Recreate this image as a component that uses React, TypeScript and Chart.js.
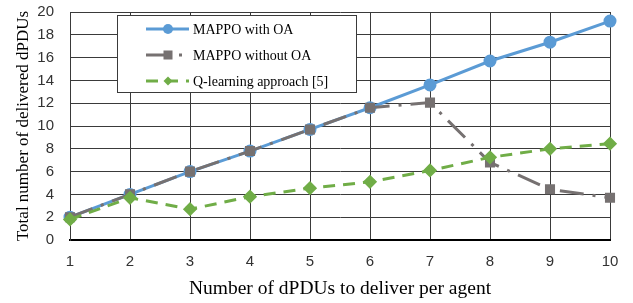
import React, { useEffect, useRef } from "react";
import { Chart, registerables } from "chart.js";

Chart.register(...registerables);

const categories = ["1", "2", "3", "4", "5", "6", "7", "8", "9", "10"];
const withOA = [2, 4, 6, 7.8, 9.7, 11.6, 13.6, 15.7, 17.35, 19.2];
const withoutOA = [2, 4, 6, 7.8, 9.7, 11.6, 12.05, 6.8, 4.45, 3.7];
const qLearning = [1.8, 3.7, 2.7, 3.8, 4.55, 5.1, 6.1, 7.25, 8.0, 8.45];
const seriesNames = ["MAPPO with OA", "MAPPO without OA", "Q-learning approach [5]"];
const yTitle = "Total number of delivered dPDUs";
const xTitle = "Number of dPDUs to deliver per agent";

const BLUE = "#5B9BD5";
const GRAY = "#767171";
const GREEN = "#70AD47";
const GRID = "#3a3a3a";
const SERIF = "'Liberation Serif', 'Times New Roman', serif";
const SANS = "'Liberation Sans', Arial, sans-serif";

const legendPlugin = {
  id: "insideLegend",
  afterDraw(chart: any) {
    const ctx = chart.ctx as CanvasRenderingContext2D;
    const bx = 117.5, by = 15.5, bw = 239, bh = 77;
    ctx.save();
    ctx.fillStyle = "#ffffff";
    ctx.fillRect(bx, by, bw, bh);
    ctx.strokeStyle = GRID;
    ctx.lineWidth = 1;
    ctx.strokeRect(bx, by, bw, bh);
    const rows = [29, 55, 81];
    const x0 = 146, x1 = 189, mx = 168;
    chart.data.datasets.forEach((ds: any, i: number) => {
      const y = rows[i];
      ctx.save();
      ctx.strokeStyle = ds.borderColor;
      ctx.lineWidth = 3;
      ctx.setLineDash(ds.borderDash || []);
      ctx.beginPath();
      ctx.moveTo(x0, y);
      ctx.lineTo(x1, y);
      ctx.stroke();
      ctx.restore();
      ctx.fillStyle = ds.pointBackgroundColor;
      ctx.beginPath();
      if (ds.pointStyle === "circle") {
        ctx.arc(mx, y, 5, 0, Math.PI * 2);
        ctx.fill();
      } else if (ds.pointStyle === "rect") {
        ctx.fillRect(mx - 4.5, y - 4.5, 9, 9);
      } else {
        ctx.moveTo(mx, y - 4.5);
        ctx.lineTo(mx + 4.5, y);
        ctx.lineTo(mx, y + 4.5);
        ctx.lineTo(mx - 4.5, y);
        ctx.closePath();
        ctx.fill();
      }
      ctx.fillStyle = "#000000";
      ctx.font = `14px ${SERIF}`;
      ctx.textBaseline = "middle";
      ctx.textAlign = "left";
      ctx.fillText(ds.label, 193, y + 1);
    });
    ctx.restore();
  },
};

export default function App() {
  const ref = useRef<HTMLCanvasElement>(null);
  useEffect(() => {
    document.body.style.margin = "0";
    const chart = new Chart(ref.current!, {
      type: "line",
      data: {
        labels: categories,
        datasets: [
          {
            label: seriesNames[0],
            data: withOA,
            borderColor: BLUE,
            backgroundColor: BLUE,
            pointBackgroundColor: BLUE,
            pointBorderColor: BLUE,
            pointStyle: "circle",
            pointRadius: 5,
            borderWidth: 3,
            order: 2,
          },
          {
            label: seriesNames[1],
            data: withoutOA,
            borderColor: GRAY,
            backgroundColor: GRAY,
            pointBackgroundColor: GRAY,
            pointBorderColor: GRAY,
            pointStyle: "rect",
            pointRadius: 5,
            borderWidth: 3,
            borderDash: [24, 9, 3, 9],
            order: 1,
          },
          {
            label: seriesNames[2],
            data: qLearning,
            borderColor: GREEN,
            backgroundColor: GREEN,
            pointBackgroundColor: GREEN,
            pointBorderColor: GREEN,
            pointStyle: "rectRot",
            pointRadius: 5,
            borderWidth: 3,
            borderDash: [12, 8],
            order: 0,
          },
        ],
      },
      options: {
        animation: false,
        responsive: false,
        devicePixelRatio: 1,
        layout: { padding: { top: 12, right: 23, bottom: 0, left: 0 } },
        plugins: { legend: { display: false }, tooltip: { enabled: false } },
        scales: {
          x: {
            type: "category",
            offset: false,
            grid: { color: GRID, drawTicks: false, offset: false },
            border: { color: "#000000", width: 2 },
            ticks: { color: "#333333", font: { family: SANS, size: 15 }, padding: 13, maxRotation: 0 },
            title: { display: true, text: xTitle, color: "#000000", font: { family: SERIF, size: 19.5 }, padding: { top: 0, bottom: 2 } },
            afterFit: (s: any) => {
              s.height = 63;
              s.paddingLeft = 0;
              s.paddingRight = 0;
            },
          },
          y: {
            min: 0,
            max: 20,
            ticks: { stepSize: 2, color: "#333333", font: { family: SANS, size: 15 }, padding: 16 },
            grid: { color: GRID, drawTicks: false },
            border: { color: GRID, width: 1 },
            title: { display: true, text: yTitle, color: "#000000", font: { family: SERIF, size: 17 }, padding: { top: 13, bottom: 0 } },
            afterFit: (s: any) => {
              s.width = 70;
              s.paddingTop = 0;
              s.paddingBottom = 0;
            },
          },
        },
      },
      plugins: [legendPlugin],
    });
    return () => chart.destroy();
  }, []);
  return <canvas ref={ref} width={633} height={303} style={{ display: "block" }} />;
}
